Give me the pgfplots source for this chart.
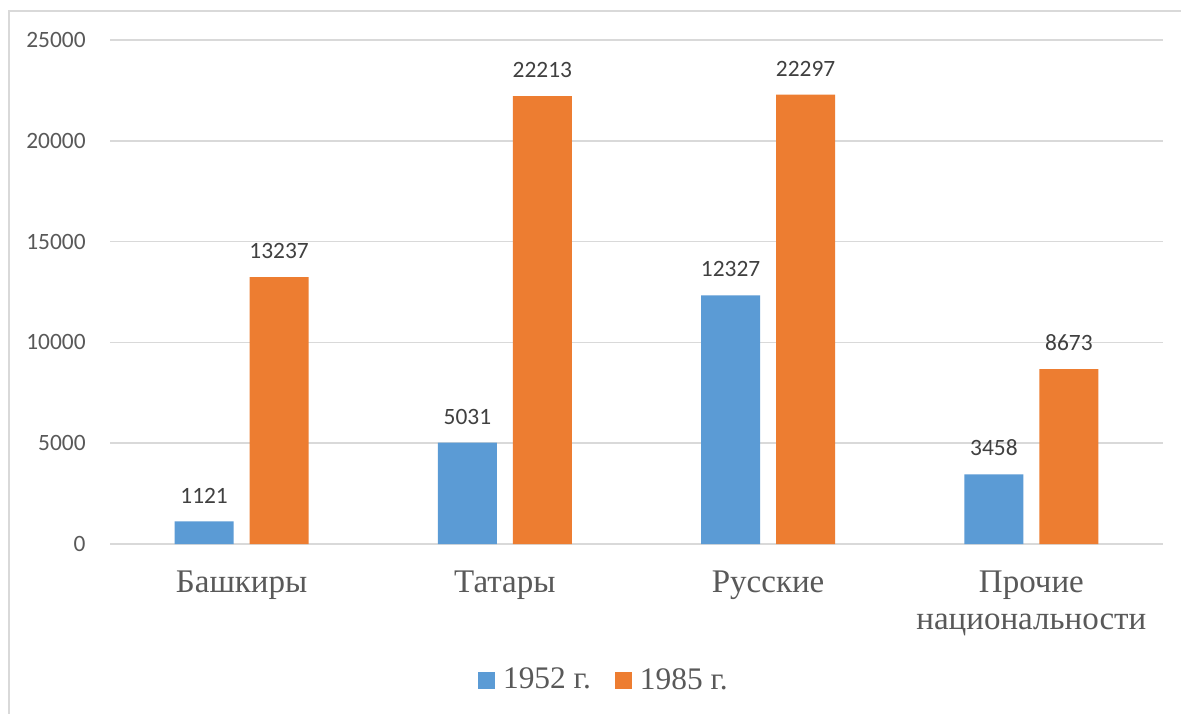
\documentclass[border=0pt]{standalone}
\usepackage{fontspec}
\setmainfont{Liberation Serif}
\newfontfamily\carlito{Carlito}
\usepackage{pgfplots}
\pgfplotsset{compat=1.18}
\definecolor{barblue}{HTML}{5B9BD5}
\definecolor{barorange}{HTML}{ED7D31}
\definecolor{gridgray}{HTML}{D9D9D9}
\definecolor{txtgray}{HTML}{595959}
\definecolor{lblgray}{HTML}{404040}
\begin{document}
\begin{tikzpicture}
\useasboundingbox (0pt,0pt) rectangle (590.5pt,-356.5pt);
\fill[white] (0pt,0pt) rectangle (590.5pt,-356.5pt);
\draw[gridgray, line width=0.8pt] (4.5pt,-357pt) -- (4.5pt,-5.5pt) -- (591pt,-5.5pt);
\begin{axis}[
  at={(55pt,-272pt)}, anchor=south west,
  scale only axis, width=526.5pt, height=252pt,
  xmin=-0.5, xmax=3.5, ymin=0, ymax=25000,
  ybar=8pt, bar width=29.5pt,
  axis line style={draw=none}, major tick length=0pt,
  ytick={0,5000,10000,15000,20000,25000},
  ymajorgrids, grid style={color=gridgray, line width=0.8pt},
  scaled y ticks=false,
  /pgf/number format/1000 sep={},
  /pgf/number format/assume math mode=true,
  yticklabel style={font=\carlito\fontsize{11.7}{14}\selectfont, text=txtgray, anchor=east, inner sep=0pt, xshift=-12pt},
  xtick={0,1,2,3},
  xticklabels={Башкиры,Татары,Русские,{Прочие\\национальности}},
  xticklabel style={font=\fontsize{16.5}{18.5}\selectfont, text=txtgray, anchor=north, inner sep=0pt, yshift=-13pt, align=center},
  nodes near coords,
  every node near coord/.append style={font=\carlito\fontsize{11.7}{14}\selectfont, text=lblgray, anchor=south, inner sep=0pt, yshift=9pt},
  legend columns=2,
  legend style={draw=none, fill=none, at={(0.470,-0.27)}, anchor=center, font=\fontsize{15.7}{18}\selectfont, text=txtgray,
    /tikz/every odd column/.append style={column sep=2pt},
    /tikz/every even column/.append style={column sep=10pt}},
  legend image code/.code={\draw[#1,draw=none] (0pt,-4.25pt) rectangle (8.5pt,4.25pt);},
]
\addplot[fill=barblue, draw=none] coordinates {(0,1121) (1,5031) (2,12327) (3,3458)};
\addplot[fill=barorange, draw=none] coordinates {(0,13237) (1,22213) (2,22297) (3,8673)};
\legend{1952 г.,1985 г.}
\end{axis}
\end{tikzpicture}
\end{document}
